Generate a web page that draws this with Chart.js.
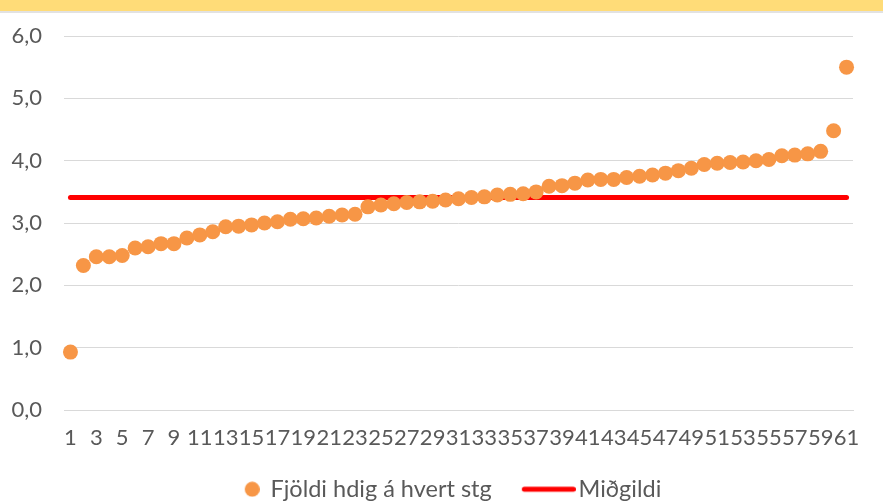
<!DOCTYPE html>
<html>
<head>
<meta charset="utf-8">
<script src="https://cdn.jsdelivr.net/npm/chart.js@4/dist/chart.umd.min.js"></script>
<style>
    html, body { margin: 0; padding: 0; background: #fff; }
    .wrap { position: relative; width: 883px; height: 502px; }
    .band { position: absolute; left: 0; top: 0; width: 883px; height: 11px; background: #FFDC78; border-bottom: 2px solid #E2E2E2; }
    canvas { position: absolute; left: 0; top: 0; }
</style>
</head>
<body>
<div class="wrap">
    <canvas id="chart" width="883" height="502"></canvas>
    <div class="band"></div>
</div>
<script>
const categories = Array.from({length: 61}, (_, i) => String(i + 1));

const hdigValues = [
    0.93, 2.32, 2.46, 2.46, 2.48, 2.60, 2.62, 2.67, 2.67, 2.76,
    2.81, 2.86, 2.94, 2.95, 2.97, 3.00, 3.02, 3.06, 3.07, 3.08,
    3.11, 3.13, 3.14, 3.26, 3.29, 3.31, 3.33, 3.34, 3.35, 3.37,
    3.39, 3.41, 3.42, 3.45, 3.46, 3.47, 3.50, 3.59, 3.60, 3.64,
    3.69, 3.70, 3.70, 3.73, 3.75, 3.77, 3.80, 3.84, 3.88, 3.94,
    3.96, 3.97, 3.98, 4.00, 4.02, 4.08, 4.09, 4.11, 4.15, 4.48, 5.50
];

const medianValue = 3.41;
const medianValues = categories.map(() => medianValue);

const yTicks = [0, 1, 2, 3, 4, 5, 6];

const ORANGE = '#F79646';
const RED = '#FF0000';
const TEXT = '#595959';
const GRID = '#D9D9D9';
const FONT = 'Lato, "Open Sans", sans-serif';

// little legend markers, drawn as canvases so each item can have its own shape
const makeDot = () => {
    const c = document.createElement('canvas');
    c.width = 66;
    c.height = 16;
    const ctx = c.getContext('2d');
    ctx.fillStyle = ORANGE;
    ctx.beginPath();
    ctx.arc(58.5, 8, 7.5, 0, Math.PI * 2);
    ctx.fill();
    return c;
};

const makeLine = () => {
    const c = document.createElement('canvas');
    c.width = 82;
    c.height = 8;
    const ctx = c.getContext('2d');
    ctx.strokeStyle = RED;
    ctx.lineWidth = 5;
    ctx.lineCap = 'round';
    ctx.beginPath();
    ctx.moveTo(30.5, 4);
    ctx.lineTo(79.5, 4);
    ctx.stroke();
    return c;
};

const markers = [makeDot(), makeLine()];

new Chart(document.getElementById('chart'), {
    type: 'line',
    data: {
        labels: categories,
        datasets: [{
            label: 'Fjöldi hdig á hvert stg',
            data: hdigValues,
            showLine: false,
            pointRadius: 7.5,
            pointHoverRadius: 7.5,
            pointBackgroundColor: ORANGE,
            pointBorderWidth: 0,
            borderColor: ORANGE,
            backgroundColor: ORANGE
        }, {
            label: 'Miðgildi',
            data: medianValues,
            borderColor: RED,
            backgroundColor: RED,
            borderWidth: 5,
            borderCapStyle: 'round',
            pointRadius: 0,
            pointHoverRadius: 0,
            tension: 0
        }]
    },
    options: {
        responsive: false,
        animation: false,
        layout: {padding: {left: 3, right: 30, top: 36, bottom: -9}},
        plugins: {
            tooltip: {enabled: false},
            legend: {
                position: 'bottom',
                labels: {
                    color: TEXT,
                    font: {family: FONT, size: 23.5},
                    usePointStyle: true,
                    pointStyleWidth: 64,
                    padding: 11,
                    generateLabels: chart => chart.data.datasets.map((ds, i) => ({
                        text: ds.label,
                        fontColor: TEXT,
                        pointStyle: markers[i],
                        datasetIndex: i,
                        hidden: false,
                        lineWidth: 0,
                        strokeStyle: 'transparent',
                        fillStyle: 'transparent'
                    }))
                }
            }
        },
        scales: {
            x: {
                offset: true,
                grid: {display: false, drawTicks: false},
                border: {display: true, color: GRID, width: 1},
                ticks: {
                    color: TEXT,
                    font: {family: FONT, size: 22},
                    autoSkip: false,
                    maxRotation: 0,
                    padding: 15,
                    callback: (val, i) => (i % 2 === 0 ? categories[i] : '')
                }
            },
            y: {
                min: yTicks[0],
                max: yTicks[yTicks.length - 1],
                afterBuildTicks: scale => { scale.ticks = yTicks.map(v => ({value: v})); },
                afterFit: scale => { scale.width = 61; },
                grid: {color: GRID, lineWidth: 1, drawTicks: false},
                border: {display: false},
                ticks: {
                    color: TEXT,
                    font: {family: FONT, size: 22},
                    padding: 22,
                    callback: v => v.toFixed(1).replace('.', ',')
                }
            }
        }
    }
});
</script>
</body>
</html>
